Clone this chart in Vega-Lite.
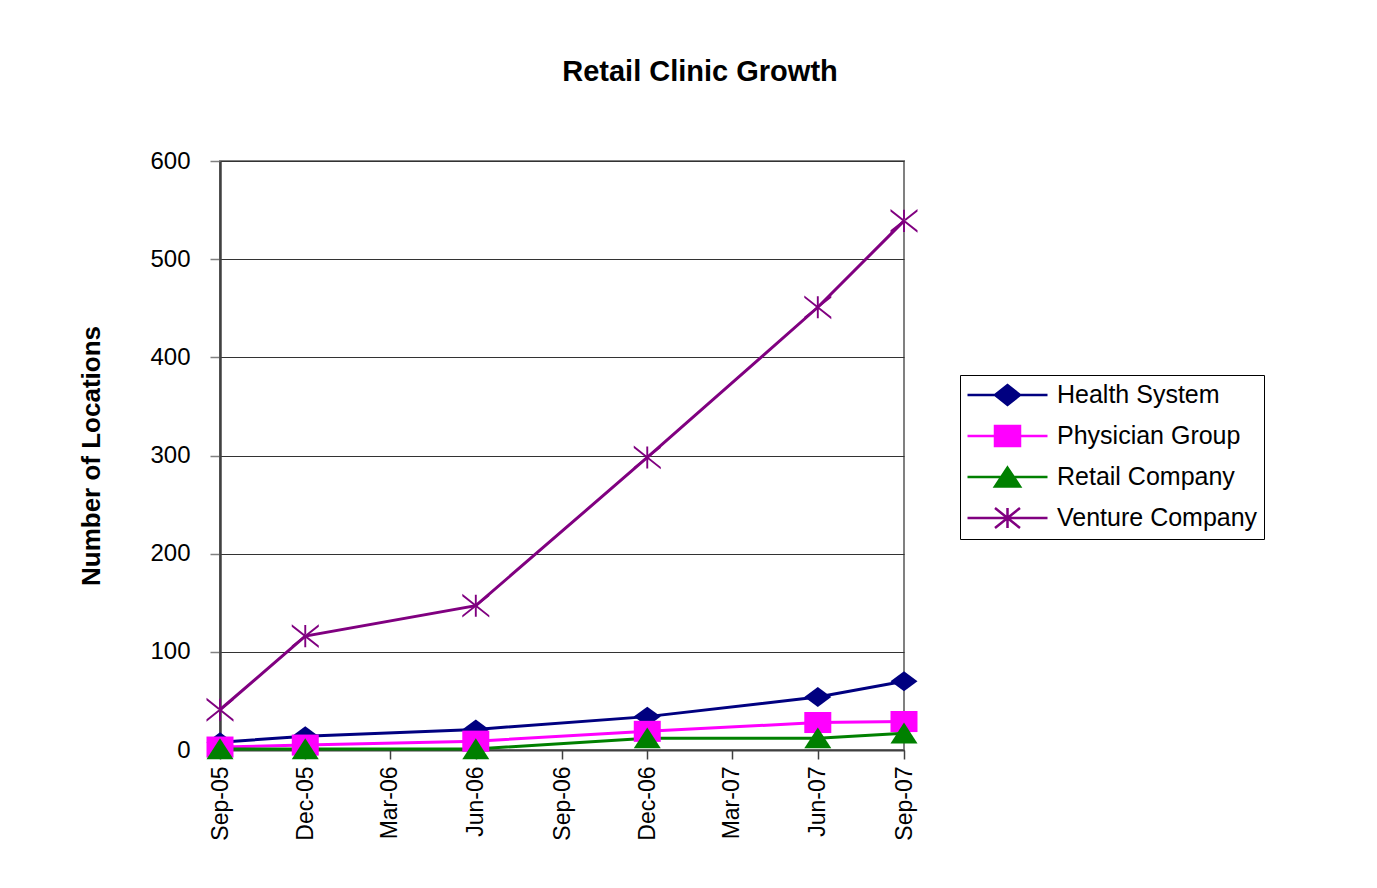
{
  "$schema": "https://vega.github.io/schema/vega-lite/v6.json",
  "autosize": "none",
  "width": 684,
  "height": 589,
  "padding": {"left": 220, "top": 161, "right": 473, "bottom": 138},
  "background": "white",
  "title": {
    "text": "Retail Clinic Growth",
    "font": "Liberation Sans",
    "fontSize": 29,
    "fontWeight": "bold",
    "color": "black",
    "anchor": "middle",
    "dx": 138,
    "offset": 62
  },
  "config": {
    "view": {"stroke": "#808080", "strokeWidth": 2},
    "font": "Liberation Sans"
  },
  "data": {
    "values": [
      {"series": "Health System", "date": "2005-09-01", "locations": 8},
      {"series": "Health System", "date": "2005-12-01", "locations": 14},
      {"series": "Health System", "date": "2006-06-01", "locations": 21},
      {"series": "Health System", "date": "2006-12-01", "locations": 34},
      {"series": "Health System", "date": "2007-06-01", "locations": 54},
      {"series": "Health System", "date": "2007-09-01", "locations": 70},
      {"series": "Physician Group", "date": "2005-09-01", "locations": 3},
      {"series": "Physician Group", "date": "2005-12-01", "locations": 5},
      {"series": "Physician Group", "date": "2006-06-01", "locations": 9},
      {"series": "Physician Group", "date": "2006-12-01", "locations": 19},
      {"series": "Physician Group", "date": "2007-06-01", "locations": 28},
      {"series": "Physician Group", "date": "2007-09-01", "locations": 29},
      {"series": "Retail Company", "date": "2005-09-01", "locations": 1},
      {"series": "Retail Company", "date": "2005-12-01", "locations": 1},
      {"series": "Retail Company", "date": "2006-06-01", "locations": 1},
      {"series": "Retail Company", "date": "2006-12-01", "locations": 12},
      {"series": "Retail Company", "date": "2007-06-01", "locations": 12},
      {"series": "Retail Company", "date": "2007-09-01", "locations": 17},
      {"series": "Venture Company", "date": "2005-09-01", "locations": 41},
      {"series": "Venture Company", "date": "2005-12-01", "locations": 116},
      {"series": "Venture Company", "date": "2006-06-01", "locations": 147},
      {"series": "Venture Company", "date": "2006-12-01", "locations": 298},
      {"series": "Venture Company", "date": "2007-06-01", "locations": 451},
      {"series": "Venture Company", "date": "2007-09-01", "locations": 539}
    ]
  },
  "encoding": {
    "x": {
      "field": "date",
      "type": "temporal",
      "scale": {
        "type": "utc",
        "domain": [
          {"year": 2005, "month": 9, "date": 1, "utc": true},
          {"year": 2007, "month": 9, "date": 1, "utc": true}
        ],
        "nice": false
      },
      "axis": {
        "title": null,
        "labelExpr": "utcFormat(datum.value, '%b-%y')",
        "values": [
          {"year": 2005, "month": 9, "date": 1, "utc": true},
          {"year": 2005, "month": 12, "date": 1, "utc": true},
          {"year": 2006, "month": 3, "date": 1, "utc": true},
          {"year": 2006, "month": 6, "date": 1, "utc": true},
          {"year": 2006, "month": 9, "date": 1, "utc": true},
          {"year": 2006, "month": 12, "date": 1, "utc": true},
          {"year": 2007, "month": 3, "date": 1, "utc": true},
          {"year": 2007, "month": 6, "date": 1, "utc": true},
          {"year": 2007, "month": 9, "date": 1, "utc": true}
        ],
        "labelAngle": -90,
        "labelAlign": "right",
        "labelBaseline": "middle",
        "labelFontSize": 23,
        "labelColor": "black",
        "labelPadding": 7,
        "labelFont": "Liberation Sans",
        "labelOverlap": false,
        "labelFlush": false,
        "tickSize": 9,
        "tickColor": "#404040",
        "tickWidth": 1.5,
        "domainColor": "#404040",
        "domainWidth": 2,
        "grid": false
      }
    },
    "y": {
      "field": "locations",
      "type": "quantitative",
      "scale": {"domain": [0, 600], "nice": false, "zero": true},
      "axis": {
        "title": "Number of Locations",
        "titleFont": "Liberation Sans",
        "titleFontSize": 26,
        "titleFontWeight": "bold",
        "titleColor": "black",
        "titleX": -129,
        "titleY": 294.5,
        "titleAngle": -90,
        "titleAlign": "center",
        "titleBaseline": "middle",
        "values": [0, 100, 200, 300, 400, 500, 600],
        "labelFontSize": 24,
        "labelColor": "black",
        "labelFont": "Liberation Sans",
        "labelPadding": 20,
        "tickSize": 10,
        "tickColor": "#808080",
        "tickWidth": 1.5,
        "domainColor": "#404040",
        "domainWidth": 2.5,
        "grid": true,
        "gridColor": "#333333",
        "gridWidth": 1
      }
    }
  },
  "layer": [
    {
      "mark": {"type": "line", "strokeWidth": 3},
      "encoding": {
        "detail": {"field": "series"},
        "stroke": {
          "field": "series",
          "type": "nominal",
          "scale": {
            "domain": ["Venture Company", "Retail Company", "Physician Group", "Health System"],
            "range": ["#800080", "#008000", "#FF00FF", "#000080"]
          },
          "legend": null
        }
      }
    },
    {
      "mark": {"type": "point", "filled": true, "opacity": 1, "size": 729},
      "encoding": {
        "color": {
          "field": "series",
          "type": "nominal",
          "scale": {
            "domain": ["Health System", "Physician Group", "Retail Company", "Venture Company"],
            "range": ["#000080", "#FF00FF", "#008000", "#800080"]
          },
          "legend": {
            "title": null,
            "orient": "none",
            "legendX": 740,
            "legendY": 214,
            "fillColor": "white",
            "strokeColor": "black",
            "padding": 6,
            "rowPadding": 11,
            "symbolSize": 625,
            "symbolStrokeWidth": 2.5,
            "symbolOpacity": 1,
            "symbolType": {"expr": "datum.value === 'Health System' ? 'M-1,0H5.4M1.2,0L2.2,-0.8L3.2,0L2.2,0.8Z' : datum.value === 'Physician Group' ? 'M-1,0H5.4M1.2,-0.8H3.2V0.8H1.2Z' : datum.value === 'Retail Company' ? 'M-1,0H5.4M2.2,-0.75L3.2,0.75L1.2,0.75Z' : 'M-1,0H5.4M1.2,-0.8L3.2,0.8M1.2,0.8L3.2,-0.8M2.2,-0.8V0.8'"},
            "symbolStrokeColor": {"expr": "scale('color', datum.value)"},
            "labelFontSize": 25,
            "labelFont": "Liberation Sans",
            "labelColor": "black",
            "labelOffset": 63,
            "labelLimit": 400
          }
        },
        "shape": {
          "field": "series",
          "type": "nominal",
          "scale": {
            "domain": ["Venture Company", "Retail Company", "Physician Group", "Health System"],
            "range": [
              "M-1,-0.88L1,0.7L1,0.88L-1,-0.7ZM-1,0.88L1,-0.7L1,-0.88L-1,0.7ZM-0.07,-0.82H0.07V0.82H-0.07Z",
              "M0,-0.8L1,0.75L-1,0.75Z",
              "M-1,-0.78H1V0.78H-1Z",
              "M-1,0L0,-0.74L1,0L0,0.74Z"
            ]
          },
          "legend": null
        }
      }
    }
  ]
}
